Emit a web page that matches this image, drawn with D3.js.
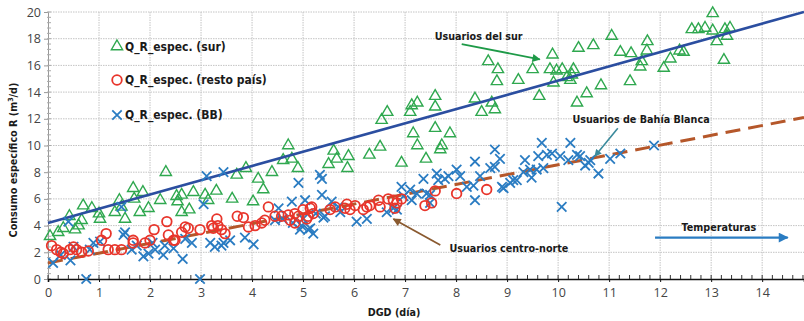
<!DOCTYPE html>
<html><head><meta charset="utf-8">
<script src="https://cdn.jsdelivr.net/npm/d3@7"></script>
<style>
html,body{margin:0;padding:0;background:#fff;}
svg{display:block;}
.lbl{font-family:"Liberation Sans Narrow","Arial Narrow","DejaVu Sans Condensed",sans-serif;font-weight:bold;fill:#1a1a1a;}
.tick text{font-family:"Open Sans","Liberation Sans",sans-serif;font-size:12.5px;fill:#444;}
</style></head>
<body><svg id="c" width="804" height="321"></svg>
<script>
const xTicks = [0,1,2,3,4,5,6,7,8,9,10,11,12,13,14];
const yTicks = [0,2,4,6,8,10,12,14,16,18,20];
const seriesNames = ["Q_R_espec. (sur)","Q_R_espec. (resto país)","Q_R_espec. (BB)"];

const sur = [[0.04,3.2],[0.2,3.5],[0.3,3.8],[0.42,4.7],[0.53,3.7],[0.6,4.0],[0.66,4.4],[0.69,5.5],[0.86,5.3],[1.0,4.9],[1.02,4.5],[1.31,5.0],[1.4,5.9],[1.44,5.4],[1.51,4.5],[1.67,6.8],[1.69,6.0],[1.8,5.0],[1.86,6.5],[1.97,5.3],[2.2,5.9],[2.31,8.0],[2.52,6.2],[2.54,5.8],[2.62,6.3],[2.62,5.0],[2.77,5.2],[2.85,6.5],[3.08,6.3],[3.14,5.9],[3.3,6.6],[3.61,6.0],[3.7,7.8],[3.88,8.3],[4.02,5.8],[4.12,7.5],[4.22,6.7],[4.39,8.0],[4.61,8.9],[4.71,10.0],[4.78,9.0],[4.9,8.3],[5.5,8.6],[5.6,9.6],[5.66,9.0],[5.87,8.3],[5.89,9.2],[6.3,9.3],[6.51,9.9],[6.54,11.9],[6.65,12.5],[6.93,8.7],[7.1,12.5],[7.13,13.0],[7.24,13.2],[7.16,10.9],[7.24,10.0],[7.41,9.0],[7.59,13.7],[7.59,12.9],[7.59,11.3],[7.69,9.7],[7.72,10.0],[7.88,10.9],[8.37,13.5],[8.5,12.5],[8.63,16.3],[8.7,13.2],[8.76,12.7],[8.82,15.7],[8.8,14.8],[9.22,14.9],[9.5,15.7],[9.63,13.7],[9.89,16.8],[9.84,15.7],[9.97,15.6],[9.91,14.7],[10.08,15.7],[10.17,15.1],[10.24,14.9],[10.27,15.3],[10.3,15.7],[10.37,13.2],[10.4,17.3],[10.56,13.9],[10.69,17.5],[10.84,14.5],[11.05,18.2],[11.22,17.0],[11.41,14.8],[11.43,16.9],[11.61,15.9],[11.64,16.3],[11.75,17.8],[11.74,17.1],[12.07,15.8],[12.2,16.5],[12.38,17.1],[12.46,17.0],[12.62,18.7],[12.75,18.7],[12.88,18.8],[13.03,19.9],[13.03,18.6],[13.11,17.8],[13.27,18.7],[13.31,18.2],[13.37,18.8],[13.25,16.4]];

const restoPais = [[0.07,2.5],[0.17,2.2],[0.25,2.0],[0.3,1.9],[0.43,2.2],[0.5,2.4],[0.56,2.2],[0.66,2.0],[0.79,2.1],[1.05,2.9],[1.14,3.4],[1.18,2.2],[1.31,2.2],[1.44,2.2],[1.67,2.9],[1.67,2.7],[1.9,2.7],[2.0,2.9],[2.08,3.7],[2.33,4.3],[2.36,3.3],[2.46,2.9],[2.49,2.9],[2.62,3.5],[2.69,3.9],[2.75,3.8],[2.98,3.7],[3.21,4.0],[3.24,3.8],[3.31,4.5],[3.33,4.0],[3.4,3.7],[3.47,3.4],[3.71,4.7],[3.83,4.6],[3.93,3.9],[4.06,4.0],[4.19,4.2],[4.25,4.4],[4.32,5.4],[4.45,4.7],[4.58,4.7],[4.71,4.8],[4.75,4.4],[4.84,4.2],[4.84,4.9],[4.91,4.7],[5.0,5.2],[5.07,4.5],[5.1,4.7],[5.14,5.3],[5.17,5.4],[5.2,4.9],[5.53,5.2],[5.63,5.4],[5.82,5.3],[5.86,5.6],[5.92,5.2],[6.02,5.5],[6.18,5.2],[6.25,5.4],[6.31,5.5],[6.48,5.9],[6.51,5.4],[6.67,6.0],[6.77,5.9],[6.84,5.7],[6.93,6.0],[6.8,5.3],[7.39,5.5],[7.52,5.7],[7.59,6.6],[8.01,6.4],[8.6,6.7]];

const bb = [[0.1,1.2],[0.25,1.8],[0.4,4.3],[0.44,1.4],[0.5,2.4],[0.75,0.0],[0.82,2.2],[0.89,2.7],[1.02,2.8],[1.44,5.4],[1.48,3.3],[1.51,3.5],[1.64,2.2],[1.74,2.5],[1.87,1.7],[1.97,1.9],[2.05,2.7],[2.1,2.2],[2.26,1.8],[2.29,2.5],[2.46,2.3],[2.64,1.5],[2.69,3.0],[2.82,2.7],[2.98,0.0],[3.05,5.6],[3.11,7.7],[3.18,2.7],[3.27,2.4],[3.4,2.5],[3.44,8.0],[3.44,2.7],[3.57,2.9],[3.86,3.1],[4.03,2.6],[4.45,4.4],[4.52,5.3],[4.6,4.5],[4.78,5.8],[4.8,4.2],[4.91,7.2],[4.94,3.7],[4.97,4.0],[5.0,4.5],[5.04,5.9],[5.1,3.7],[5.14,3.8],[5.2,3.4],[5.25,4.9],[5.33,7.8],[5.37,7.5],[5.37,6.3],[5.4,4.6],[5.43,4.7],[5.56,5.8],[5.69,5.4],[5.73,5.0],[6.05,4.3],[6.25,4.5],[6.64,5.0],[6.77,5.3],[6.84,5.2],[6.93,6.9],[6.97,6.2],[7.1,6.7],[7.13,5.9],[7.23,6.4],[7.36,7.5],[7.42,6.4],[7.49,5.7],[7.49,6.3],[7.62,7.9],[7.65,7.4],[7.78,7.5],[7.85,7.7],[8.01,8.2],[8.08,7.7],[8.21,6.9],[8.34,7.0],[8.37,8.8],[8.37,5.9],[8.47,7.7],[8.67,8.3],[8.76,9.7],[8.76,8.4],[8.86,9.0],[8.9,6.9],[8.93,6.8],[9.06,7.2],[9.12,7.4],[9.19,7.4],[9.32,8.0],[9.35,8.9],[9.45,8.2],[9.48,7.6],[9.58,8.2],[9.61,9.2],[9.68,10.2],[9.71,8.3],[9.78,9.3],[9.88,9.4],[10.04,9.2],[10.07,5.4],[10.2,8.9],[10.24,10.2],[10.37,9.3],[10.43,9.2],[10.53,8.5],[10.6,8.7],[10.63,8.9],[10.79,7.9],[11.02,9.0],[11.22,9.4],[11.88,10.0]];

const fitSur = [[0,4.2],[14.82,20.0]];
const fitCentro = [[0,1.2],[14.82,12.1]];

const svg = d3.select("#c");
const x = d3.scaleLinear().domain([0,14.82]).range([48,804]);
const y = d3.scaleLinear().domain([0,20]).range([279,12]);

const C = {sur:"#2fa84f", pais:"#e8352b", bb:"#2a7cc2", fit:"#2b4ea0", cen:"#b5572a"};

// grid
svg.append("g").selectAll("line").data(xTicks.filter(d=>d>0)).join("line")
  .attr("x1",d=>x(d)).attr("x2",d=>x(d)).attr("y1",y(20)).attr("y2",y(0))
  .attr("stroke","#c4c4c4").attr("stroke-width",1).attr("stroke-dasharray","1.5,1");
svg.append("g").selectAll("line").data(yTicks.filter(d=>d>0)).join("line")
  .attr("x1",x(0)).attr("x2",804).attr("y1",d=>y(d)).attr("y2",d=>y(d))
  .attr("stroke","#c4c4c4").attr("stroke-width",1).attr("stroke-dasharray","1.5,1");

// y axis
const yAx = svg.append("g").attr("transform",`translate(${x(0)},0)`)
  .call(d3.axisLeft(y).tickValues(yTicks).tickSize(4).tickPadding(3).tickFormat(d3.format("d")));
yAx.select(".domain").attr("stroke","#999");
yAx.selectAll(".tick line").attr("stroke","#999");
svg.append("g").selectAll("line").data(d3.range(0,20.01,0.4)).join("line")
  .attr("x1",x(0)-1).attr("x2",x(0)+3).attr("y1",d=>y(d)).attr("y2",d=>y(d))
  .attr("stroke","#aaa").attr("stroke-width",1);

// x axis
const xAx = svg.append("g").attr("transform",`translate(0,${y(0)})`)
  .call(d3.axisBottom(x).tickValues(xTicks).tickSize(3).tickPadding(6).tickFormat(d3.format("d")));
xAx.select(".domain").attr("stroke","#111").attr("stroke-width",1.6);
xAx.selectAll(".tick line").attr("stroke","#111");
svg.append("g").selectAll("line").data(d3.range(0,14.81,0.2)).join("line")
  .attr("x1",d=>x(d)).attr("x2",d=>x(d)).attr("y1",y(0)-4).attr("y2",y(0))
  .attr("stroke","#333").attr("stroke-width",1);

// triangles
const tri = d3.symbol().type(d3.symbolTriangle).size(55);
svg.append("g").selectAll("path").data(sur).join("path")
  .attr("d",tri).attr("transform",d=>`translate(${x(d[0])},${y(d[1])})`)
  .attr("fill","none").attr("stroke",C.sur).attr("stroke-width",1.4);

// fit lines
const ln = d3.line().x(d=>x(d[0])).y(d=>y(d[1]));
svg.append("path").attr("d",ln(fitSur)).attr("stroke",C.fit).attr("stroke-width",2.6).attr("fill","none");
svg.append("path").attr("d",ln(fitCentro)).attr("stroke",C.cen).attr("stroke-width",3).attr("fill","none").attr("stroke-dasharray","15,8");

// crosses
const cross = d3.symbol().type(d3.symbolTimes).size(60);
svg.append("g").selectAll("path").data(bb).join("path")
  .attr("d",cross).attr("transform",d=>`translate(${x(d[0])},${y(d[1])})`)
  .attr("fill","none").attr("stroke",C.bb).attr("stroke-width",1.8);

// circles
svg.append("g").selectAll("circle").data(restoPais).join("circle")
  .attr("cx",d=>x(d[0])).attr("cy",d=>y(d[1])).attr("r",4.8)
  .attr("fill","none").attr("stroke",C.pais).attr("stroke-width",1.8);

// legend
const lg = svg.append("g");
const lgY = [46.5,80,115];
lg.append("path").attr("d",tri).attr("transform",`translate(117,${lgY[0]})`)
  .attr("fill","none").attr("stroke",C.sur).attr("stroke-width",1.4);
lg.append("circle").attr("cx",117).attr("cy",lgY[1]).attr("r",4.8).attr("fill","none").attr("stroke",C.pais).attr("stroke-width",1.8);
lg.append("path").attr("d",cross).attr("transform",`translate(117,${lgY[2]})`).attr("fill","none").attr("stroke",C.bb).attr("stroke-width",1.8);
lg.selectAll("text").data(seriesNames).join("text").attr("class","lbl")
  .attr("x",125).attr("y",(d,i)=>lgY[i]+4).attr("font-size",12).text(d=>d);

// axis titles
svg.append("text").attr("class","lbl").attr("font-size",10.7).attr("text-anchor","middle")
  .attr("x",394).attr("y",316).text("DGD (día)");
const yt = svg.append("text").attr("class","lbl").attr("font-size",10.7).attr("text-anchor","middle")
  .attr("transform","translate(17,160) rotate(-90)");
yt.append("tspan").text("Consumo específico R (m");
yt.append("tspan").attr("font-size",7).attr("dy",-4).text("3");
yt.append("tspan").attr("dy",4).text("/d)");

// annotations
const defs = svg.append("defs");
function marker(id,col){
  defs.append("marker").attr("id",id).attr("viewBox","0 0 10 10").attr("refX",9).attr("refY",5)
   .attr("markerWidth",5).attr("markerHeight",4.5).attr("orient","auto")
   .append("path").attr("d","M0,0 L10,5 L0,10 Z").attr("fill",col);
}
marker("mg","#1e9a48"); marker("mt","#3a8a9c"); marker("mb","#8a5a30"); marker("mbl","#2a7cc2");
function arrow(p0,p1,col,id,w){
  svg.append("line").attr("x1",x(p0[0])).attr("y1",y(p0[1])).attr("x2",x(p1[0])).attr("y2",y(p1[1]))
   .attr("stroke",col).attr("stroke-width",w).attr("marker-end",`url(#${id})`);
}
arrow([8.11,17.6],[9.64,16.45],"#1e9a48","mg",1.8);
arrow([11.17,11.3],[10.72,9.2],"#3a8a9c","mt",1.6);
arrow([7.69,2.55],[6.77,4.5],"#8a5a30","mb",1.8);
arrow([11.9,3.1],[14.5,3.1],"#2a7cc2","mbl",2.2);

const notes = [{t:"Usuarios del sur",v:[7.58,17.9]},{t:"Usuarios de Bahía Blanca",v:[10.28,11.7]},{t:"Usuarios centro-norte",v:[7.87,2.05]},{t:"Temperaturas",v:[12.42,3.6]}];
svg.append("g").selectAll("text").data(notes).join("text").attr("class","lbl").attr("font-size",10.7)
  .attr("x",d=>x(d.v[0])).attr("y",d=>y(d.v[1])).text(d=>d.t);
</script></body></html>
